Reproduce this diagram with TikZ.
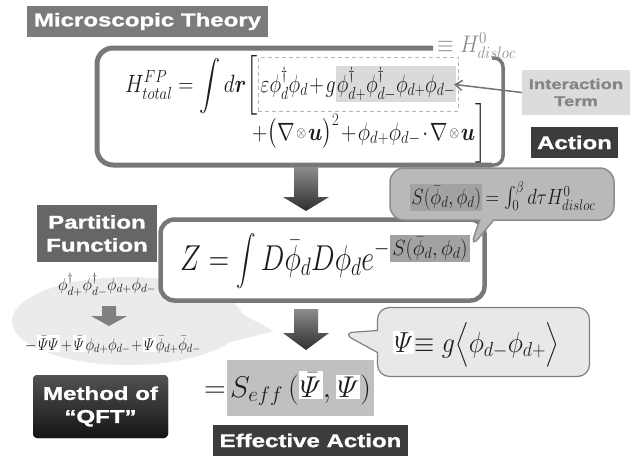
\RequirePackage{fix-cm}
\documentclass[tikz,border=0pt]{standalone}
\usepackage{amsmath,bm,graphicx}
\usepackage{fontspec}
\newfontfamily\heavy[FakeStretch=1.3,FakeBold=1.2]{Liberation Sans}
\usetikzlibrary{shapes.callouts,arrows.meta}
\definecolor{frame}{HTML}{787878}
\definecolor{tagA}{HTML}{7B7B7B}
\definecolor{tagB}{HTML}{666666}
\definecolor{tagC}{HTML}{3C3C3C}
\definecolor{hlA}{HTML}{DADADA}
\definecolor{hlB}{HTML}{A2A2A2}
\definecolor{bubA}{HTML}{B9B9B9}
\definecolor{bubB}{HTML}{E8E8E8}
\definecolor{blobc}{HTML}{EBEBEB}
\definecolor{ink}{HTML}{1C1C1C}
\definecolor{seffc}{HTML}{C0C0C0}
\definecolor{intc}{HTML}{DCDCDC}
\definecolor{inttxt}{HTML}{858585}
\newcommand\sotimes{\mathbin{\vcenter{\hbox{\scalebox{0.6}{$\otimes$}}}}}
\newcommand\hlbox[2]{{\setlength{\fboxsep}{1.5pt}\colorbox{#1}{$#2$}}}
\newcommand\sqz[2]{\scalebox{#1}[1]{#2}}
\begin{document}
\begin{tikzpicture}[x=1pt,y=-1pt,
  tagbox/.style={fill=#1,text=white,inner sep=0pt,align=center,
     font=\heavy\bfseries\fontsize{18.5}{23}\selectfont},
  mathtxt/.style={inner sep=0pt,text=ink,anchor=base west,font=\fontsize{#1}{#1}\selectfont},
  blockarrow/.style={top color=black!45,bottom color=black!82,draw=none},
]
\useasboundingbox (0,0) rectangle (636,455);
% left blob
\coordinate (blobtip) at (274,331);
\node[ellipse callout, fill=blobc, minimum width=232pt, minimum height=88pt,
  callout absolute pointer={(blobtip)}, callout pointer arc=38] (blob) at (128,321) {};
% top box
\draw[draw=frame,line width=5pt,rounded corners=16pt] (433,48) -- (97,48) -- (97,165) -- (492,165);
\draw[draw=frame,line width=3.5pt,rounded corners=9pt] (492,58) -- (503,58) -- (503,165) -- (488,165);
\node[mathtxt=25] (h1) at (125,92) {\sqz{0.845}{$H^{FP}_{total}=\displaystyle\int d\bm{r}\biggl[$}};
\node[mathtxt=25, draw=hlB!80, dash pattern=on 4pt off 3pt, line width=1.2pt,
  inner xsep=2pt, inner ysep=9pt] (h2) at (h1.base east)
  {\sqz{0.80}{$\medmuskip=1.5mu\varepsilon\phi^{\dagger}_{d}\phi_{d}+g\hlbox{hlA}{\phi^{\dagger}_{d+}\phi^{\dagger}_{d-}\phi_{d+}\phi_{d-}}$}};
\node[mathtxt=25] (h3) at (252,140) {\sqz{0.845}{$\medmuskip=1.5mu+\bigl(\nabla\sotimes\bm{u}\bigr)^{2}+\phi_{d+}\phi_{d-}\cdot\nabla\sotimes\bm{u}\biggr]$}};
\node[mathtxt=24, text=black!45] (hdis) at (437,52) {\sqz{0.9}{$\equiv H^{0}_{disloc}$}};
% interaction term
\node[fill=intc,text=inttxt,minimum width=108pt,minimum height=45pt,inner sep=0pt,align=center,
  font=\heavy\bfseries\fontsize{14.2}{17}\selectfont] (inter) at (576,92.5) {Interaction\\Term};
\draw[black!55,line width=1.5pt,-{Straight Barb[length=7pt,width=10pt]}] (inter.west) -- ([xshift=-5pt]h2.east);
\node[tagbox=tagC,minimum width=87pt,minimum height=31pt] (action) at (574.5,142.5) {Action};
\node[tagbox=tagA,minimum width=241pt,minimum height=31pt] (micro) at (147.5,21.5) {Microscopic Theory};
% arrow 1
\shade[blockarrow] (294,167) -- (318,167) -- (318,197) -- (329,197) -- (306,211) -- (283,197) -- (294,197) -- cycle;
% Z box
\node[draw=frame,line width=4.5pt,rounded corners=14pt,fill=white,minimum width=324pt,minimum height=81pt] (zbox) at (322.5,260) {};
\node[mathtxt=36] (z1) at (180,270) {\sqz{0.78}{$Z=\displaystyle\int D\bar{\phi}_{d}D\phi_{d}e^{-}$}};
\node[mathtxt=22, fill=hlB, inner sep=2pt] (zexp) at ([yshift=15pt]z1.base east) {\sqz{0.92}{$S(\bar{\phi}_{d},\phi_{d})$}};
% S callout
\node[rectangle callout, rounded corners=14pt, fill=bubA, draw=black!45, line width=1.5pt,
  minimum width=224pt, minimum height=52pt, callout absolute pointer={(zexp.east)},
  callout pointer width=14pt] (sbub) at (502,194) {};
\node[mathtxt=22] (sform) at (410,204) {\sqz{0.85}{\hlbox{hlB}{S(\bar{\phi}_{d},\phi_{d})}$\,=\int_{0}^{\beta}d\tau H^{0}_{disloc}$}};
% arrow 2
\shade[blockarrow] (294,309) -- (318,309) -- (318,333) -- (329,333) -- (306,350) -- (283,333) -- (294,333) -- cycle;
\node[tagbox=tagB,minimum width=120pt,minimum height=57pt] (part) at (97,233.5) {Partition\\Function};
% blob contents
\node[mathtxt=17] (phi4) at (58,290) {\sqz{0.95}{$\phi^{\dagger}_{d+}\phi^{\dagger}_{d-}\phi_{d+}\phi_{d-}$}};
\fill[black!50] (102,306) -- (116,306) -- (116,316) -- (127,316) -- (109,326) -- (91,316) -- (102,316) -- cycle;
\node[mathtxt=17] (psiline) at (25,350) {\sqz{0.87}{$\medmuskip=1mu -\hlbox{white}{\bar{\varPsi}\varPsi}+\hlbox{white}{\bar{\varPsi}}\phi_{d+}\phi_{d-}+\hlbox{white}{\varPsi}\bar{\phi}_{d+}\bar{\phi}_{d-}$}};
% Psi callout
\coordinate (psitip) at (342,333);
\node[rectangle callout, rounded corners=12pt, fill=bubB, draw=black!50, line width=1.2pt,
  minimum width=212pt, minimum height=69pt, callout absolute pointer={(psitip)},
  callout pointer width=22pt] (psibub) at (483.5,342) {};
\node[mathtxt=29] (psieq) at (393,352) {\sqz{0.9}{\hlbox{white}{\varPsi}$\equiv g\bigl\langle\phi_{d-}\phi_{d+}\bigr\rangle$}};
% method of QFT
\node[tagbox=black, top color=black!68, bottom color=black!92, rounded corners=4pt,
  minimum width=135pt, minimum height=63pt] (qft) at (100.5,406.5) {Method of\\“QFT”};
% S_eff
\node[fill=seffc, anchor=base west, inner xsep=3pt, inner ysep=0pt, minimum height=56pt,
  text=ink, font=\fontsize{30}{30}\selectfont] (seffbox) at (227,397)
  {$S_{eff}\,(\hlbox{white}{\bar{\varPsi}},\hlbox{white}{\varPsi})$};
\node[mathtxt=30, anchor=base east] (eqsign) at ([xshift=-1pt]seffbox.base west) {$=$};
\node[tagbox=tagC,minimum width=195pt,minimum height=31pt] (eff) at (310.5,440.5) {Effective Action};
\end{tikzpicture}
\end{document}
